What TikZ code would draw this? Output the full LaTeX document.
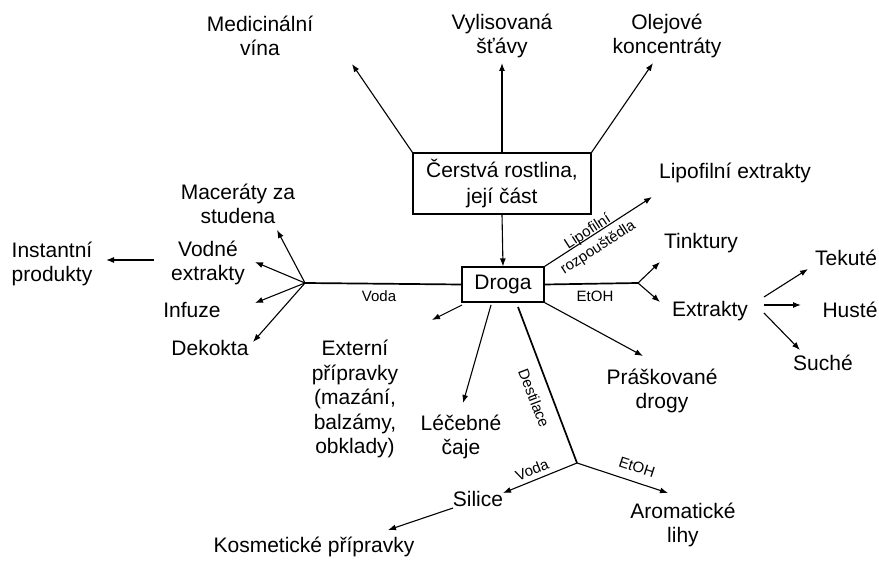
\documentclass[tikz,border=0pt]{standalone}
\usepackage{fontspec}
\setmainfont{Liberation Sans}
\usetikzlibrary{arrows.meta}
\begin{document}
\begin{tikzpicture}[x=1pt,y=-1pt,
  lbl/.style={align=center,font=\fontsize{21}{24.5}\selectfont,inner sep=0pt},
  sml/.style={align=center,font=\fontsize{15}{19}\selectfont,inner sep=0pt},
  arr/.style={-{Latex[length=8pt,width=6pt]},line width=1.1pt},
  thk/.style={line width=1.7pt},
  boxn/.style={draw,line width=1.1pt,align=center,inner sep=0pt,font=\fontsize{21}{26}\selectfont}]
\useasboundingbox (0,0) rectangle (879,561);
% boxes
\node[boxn,minimum width=178pt,minimum height=61pt] (cer) at (502,183.5) {Čerstvá rostlina,\\její část};
\node[boxn,minimum width=82pt,minimum height=35pt] (droga) at (503,284.5) {Droga};
% texts
\node[lbl] (med) at (260,36) {Medicinální\\vína};
\node[lbl] (vyl) at (502,36) {Vylisovaná\\šťávy};
\node[lbl] (ole) at (667,36) {Olejové\\koncentráty};
\node[lbl] (lipo) at (735,173) {Lipofilní extrakty};
\node[lbl] (tink) at (701,243) {Tinktury};
\node[lbl] (extr) at (710,311) {Extrakty};
\node[lbl] (tek) at (846,258) {Tekuté};
\node[lbl] (hus) at (850,310) {Husté};
\node[lbl] (such) at (823,363) {Suché};
\node[lbl] (prask) at (662,391) {Práškované\\drogy};
\node[lbl] (arom) at (683,525) {Aromatické\\lihy};
\node[lbl] (sil) at (478,499) {Silice};
\node[lbl] (kos) at (314,547) {Kosmetické přípravky};
\node[lbl] (lec) at (461,437) {Léčebné\\čaje};
\node[lbl] (ext) at (355,399) {Externí\\přípravky\\(mazání,\\balzámy,\\obklady)};
\node[lbl] (mac) at (238,204) {Maceráty za\\studena};
\node[lbl] (vod) at (208,263) {Vodné\\extrakty};
\node[lbl] (inf) at (192,310) {Infuze};
\node[lbl] (dek) at (210,348) {Dekokta};
\node[lbl] (inst) at (52,264) {Instantní\\produkty};
% small labels
\node[sml,rotate=33] (llip) at (593,240) {Lipofilní\\rozpouštědla};
\node[sml] (lEt) at (595,296) {EtOH};
\node[sml] (lVo) at (379,296) {Voda};
\node[sml,rotate=-69] (lDe) at (534,398) {Destilace};
\node[sml,rotate=22] (lVo2) at (532,470) {Voda};
\node[sml,rotate=-18] (lEt2) at (637,467) {EtOH};
% branch points
\coordinate (bV) at (305,283);
\coordinate (bE) at (638,283);
\coordinate (bX1) at (764,297);
\coordinate (bX2) at (764,305);
\coordinate (bX3) at (764,313);
\coordinate (bD) at (577,463);
% connectors from fresh plant
\draw[arr] (cer.north west) -- (352,64);
\draw[arr] (cer.north) -- (502,63);
\draw[arr] (cer.north east) -- (653,63);
\draw[arr] (cer.south) -- (droga.north);
% from Droga
\draw[arr] (droga.north east) -- (652,197);
\draw[thk] (droga.east) -- (bE);
\draw[arr] (bE) -- (660,262);
\draw[arr] (bE) -- (660,302);
\draw[arr] (bX1) -- (808,269);
\draw[arr] (bX2) -- (801,305);
\draw[arr] (bX3) -- (800,350);
\draw[arr] (droga.south east) -- (643,356);
\draw[thk] (518,307) -- (bD);
\draw[arr] (bD) -- (503,493);
\draw[arr] (bD) -- (668,493);
\draw[arr] (453,508) -- (388,530);
\draw[arr] (491,305) -- (463,403);
\draw[arr] (462,305) -- (432,320);
\draw[thk] (droga.west) -- (bV);
\draw[arr] (bV) -- (277,230);
\draw[arr] (bV) -- (255,262);
\draw[arr] (bV) -- (255,303);
\draw[arr] (bV) -- (253,342);
\draw[arr] (154,260) -- (106,260);
\end{tikzpicture}
\end{document}
